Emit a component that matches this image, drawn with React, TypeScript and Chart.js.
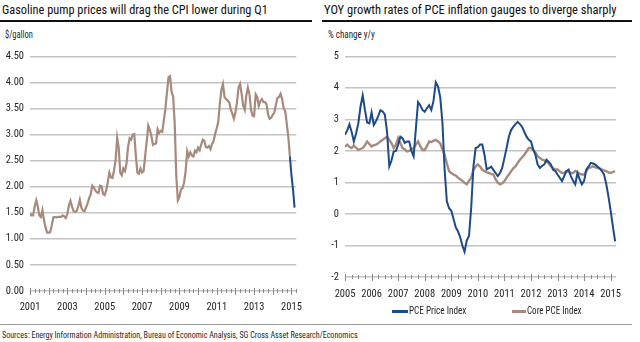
import React, { useEffect, useLayoutEffect, useRef } from "react";
import { Chart, registerables } from "chart.js";

Chart.register(...registerables);

const FONT = '"Roboto Condensed", "Liberation Sans Narrow", "DejaVu Sans Condensed", sans-serif';

// ---------- Left chart: gasoline pump prices ($/gallon), monthly from Jan 2001 ----------
const gasStartYear = 2001;
const gasPrices: number[] = [
  1.49, 1.45, 1.45, 1.62, 1.74, 1.62, 1.45, 1.42, 1.55, 1.36, 1.22, 1.12, // 2001
  1.12, 1.13, 1.26, 1.41, 1.42, 1.41, 1.42, 1.42, 1.42, 1.45, 1.43, 1.40, // 2002
  1.48, 1.64, 1.73, 1.62, 1.53, 1.52, 1.53, 1.63, 1.75, 1.60, 1.54, 1.53, // 2003
  1.60, 1.68, 1.78, 1.85, 2.02, 1.98, 1.93, 1.89, 1.88, 2.02, 2.01, 1.86, // 2004
  1.84, 1.93, 2.09, 2.27, 2.18, 2.17, 2.31, 2.51, 2.94, 2.75, 2.27, 2.22, // 2005
  2.35, 2.30, 2.44, 2.76, 2.93, 2.90, 3.00, 3.01, 2.60, 2.27, 2.25, 2.35, // 2006
  2.27, 2.30, 2.59, 2.87, 3.17, 3.09, 2.97, 2.80, 2.82, 2.83, 3.10, 3.03, // 2007
  3.07, 3.05, 3.27, 3.49, 3.80, 4.10, 4.12, 3.82, 3.72, 3.20, 2.20, 1.74, // 2008
  1.80, 1.95, 1.97, 2.08, 2.30, 2.68, 2.58, 2.66, 2.60, 2.58, 2.69, 2.66, // 2009
  2.75, 2.70, 2.81, 2.90, 2.88, 2.76, 2.75, 2.78, 2.72, 2.82, 2.88, 3.02, // 2010
  3.12, 3.25, 3.60, 3.86, 3.97, 3.72, 3.68, 3.65, 3.62, 3.48, 3.40, 3.30, // 2011
  3.42, 3.62, 3.90, 3.97, 3.78, 3.55, 3.47, 3.75, 3.90, 3.78, 3.48, 3.36, // 2012
  3.35, 3.77, 3.72, 3.55, 3.64, 3.68, 3.62, 3.62, 3.58, 3.38, 3.30, 3.32, // 2013
  3.38, 3.42, 3.57, 3.70, 3.72, 3.78, 3.68, 3.50, 3.45, 3.20, 2.95, 2.58, // 2014
];
// Dec 2014 .. Mar 2015 (highlighted segment)
const gasLatestStartMonth = 14 * 12 - 1;
const gasLatest: number[] = [2.58, 2.22, 1.95, 1.6];
const gasXTicks: number[] = [2001, 2003, 2005, 2007, 2009, 2011, 2013, 2015];
const gasYTicks: number[] = [0, 0.5, 1, 1.5, 2, 2.5, 3, 3.5, 4, 4.5];

// ---------- Right chart: PCE inflation YoY (%), monthly from Jan 2005 ----------
const pceStartYear = 2005;
const pceHeadline: number[] = [
  2.51, 2.65, 2.84, 2.6, 2.3, 2.55, 2.87, 3.4, 3.76, 3.3, 2.9, 2.87, // 2005
  3.22, 2.82, 2.95, 3.1, 3.29, 3.25, 3.15, 2.6, 1.51, 1.7, 1.98, 2.0, // 2006
  2.2, 2.45, 2.4, 2.25, 2.3, 2.3, 2.0, 1.83, 2.7, 3.55, 3.45, 3.3, // 2007
  3.24, 3.35, 3.45, 3.3, 3.6, 4.18, 4.05, 3.71, 2.9, 1.4, 0.4, 0.18, // 2008
  0.1, -0.15, -0.42, -0.55, -0.73, -1.0, -1.2, -0.84, -0.7, 0.2, 1.5, 2.09, // 2009
  2.12, 2.2, 2.2, 1.88, 1.41, 1.45, 1.5, 1.4, 1.3, 1.2, 1.3, 1.46, // 2010
  1.77, 2.1, 2.45, 2.66, 2.76, 2.85, 2.92, 2.85, 2.76, 2.6, 2.45, 2.35, // 2011
  2.3, 2.05, 1.88, 1.57, 1.46, 1.52, 1.57, 1.72, 1.65, 1.57, 1.4, 1.36, // 2012
  1.25, 1.15, 1.04, 1.2, 1.36, 1.41, 1.2, 1.05, 0.94, 1.3, 1.1, 0.94, // 2013
  1.05, 1.41, 1.5, 1.62, 1.6, 1.57, 1.5, 1.45, 1.36, 1.25, 0.95, 0.55, // 2014
  0.1, -0.4, -0.87, // 2015
];
const pceCore: number[] = [
  2.14, 2.2, 2.12, 2.09, 2.17, 2.1, 2.03, 2.06, 2.09, 2.18, 2.3, 2.22, // 2005
  2.14, 2.18, 2.2, 2.24, 2.3, 2.35, 2.4, 2.45, 2.35, 2.24, 2.09, 2.2, // 2006
  2.4, 2.25, 2.09, 2.05, 1.98, 2.0, 2.05, 2.09, 2.2, 2.3, 2.15, 2.03, // 2007
  2.03, 2.15, 2.3, 2.28, 2.32, 2.35, 2.3, 2.24, 2.05, 1.88, 1.6, 1.36, // 2008
  1.3, 1.25, 1.22, 1.15, 1.1, 1.05, 0.99, 0.94, 1.05, 1.15, 1.41, 1.5, // 2009
  1.57, 1.5, 1.4, 1.36, 1.32, 1.3, 1.27, 1.25, 1.1, 0.99, 0.94, 0.97, // 2010
  1.04, 1.15, 1.25, 1.35, 1.45, 1.51, 1.62, 1.72, 1.8, 1.88, 1.98, 2.09, // 2011
  2.09, 2.03, 1.95, 1.83, 1.78, 1.72, 1.7, 1.67, 1.6, 1.51, 1.45, 1.41, // 2012
  1.41, 1.35, 1.3, 1.3, 1.36, 1.33, 1.3, 1.3, 1.36, 1.32, 1.28, 1.25, // 2013
  1.25, 1.35, 1.46, 1.48, 1.51, 1.48, 1.46, 1.44, 1.41, 1.38, 1.36, 1.32, // 2014
  1.3, 1.33, 1.36, // 2015
];
const pceXTicks: number[] = [2005, 2006, 2007, 2008, 2009, 2010, 2011, 2012, 2013, 2014, 2015];
const pceYTicks: number[] = [-2, -1, 0, 1, 2, 3, 4, 5];

const BROWN = "#a88a7d";
const BLUE = "#1d4a8a";
const GRID = "#c4c4c4";
const TEXT = "#262626";

function monthly(startYear: number, values: number[], offset = 0) {
  return values.map((v, i) => ({ x: startYear + (offset + i) / 12, y: v }));
}

// draws quarterly minor and yearly major tick marks along the x axis
const tickMarks = {
  id: "tickMarks",
  afterDraw(chart: any) {
    const xs = chart.scales.x;
    const ctx = chart.ctx;
    const y0 = chart.chartArea.bottom;
    ctx.save();
    ctx.strokeStyle = "#8a8a8a";
    ctx.lineWidth = 1;
    for (let q = Math.ceil(xs.min * 4); q <= Math.floor(xs.max * 4); q++) {
      const px = Math.round(xs.getPixelForValue(q / 4)) + 0.5;
      const major = q % 4 === 0;
      ctx.beginPath();
      ctx.moveTo(px, y0 - (major ? 3 : 2));
      ctx.lineTo(px, y0 + (major ? 4 : 2));
      ctx.stroke();
    }
    ctx.restore();
  },
};

function baseOptions(p: {
  xMin: number; xMax: number; xTicks: number[]; yMin: number; yMax: number; yTicks: number[];
  yWidth: number; xHeight: number; padRight: number; xPad: number; yFmt: (v: number) => string;
}) {
  return {
    responsive: false,
    animation: false as const,
    devicePixelRatio: 1,
    layout: { padding: { top: 10, right: p.padRight, left: 0, bottom: 0 } },
    plugins: { legend: { display: false }, tooltip: { enabled: false } },
    elements: { point: { radius: 0 }, line: { tension: 0 } },
    scales: {
      x: {
        type: "linear" as const,
        min: p.xMin,
        max: p.xMax,
        afterBuildTicks: (s: any) => { s.ticks = p.xTicks.map((v) => ({ value: v })); },
        afterFit: (s: any) => { s.height = p.xHeight; },
        grid: { display: false, drawTicks: false },
        border: { display: false },
        ticks: {
          autoSkip: false,
          maxRotation: 0,
          padding: p.xPad,
          color: TEXT,
          font: { family: FONT, size: 10.5 },
          callback: (v: any) => String(v),
        },
      },
      y: {
        min: p.yMin,
        max: p.yMax,
        afterBuildTicks: (s: any) => { s.ticks = p.yTicks.map((v) => ({ value: v })); },
        afterFit: (s: any) => { s.width = p.yWidth; },
        grid: { color: GRID, lineWidth: 1.4, drawTicks: false },
        border: { display: false },
        ticks: {
          padding: 6,
          color: TEXT,
          font: { family: FONT, size: 10.5 },
          callback: (v: any) => p.yFmt(Number(v)),
        },
      },
    },
  };
}

function GasChart() {
  const ref = useRef<HTMLCanvasElement>(null);
  useEffect(() => {
    const chart = new Chart(ref.current as HTMLCanvasElement, {
      type: "line",
      data: {
        datasets: [
          { label: "Latest", data: monthly(gasStartYear, gasLatest, gasLatestStartMonth), borderColor: BLUE, borderWidth: 2, pointRadius: 0 },
          { label: "Gasoline", data: monthly(gasStartYear, gasPrices), borderColor: BROWN, borderWidth: 2.2, pointRadius: 0 },
        ],
      },
      options: baseOptions({
        xMin: 2001, xMax: 2015.26, xTicks: gasXTicks, yMin: 0, yMax: 4.5, yTicks: gasYTicks,
        yWidth: 30, xHeight: 28, padRight: 10, xPad: 10, yFmt: (v) => v.toFixed(2),
      }) as any,
      plugins: [tickMarks],
    });
    return () => chart.destroy();
  }, []);
  return <canvas ref={ref} width={312} height={275} style={{ position: "absolute", left: 0, top: 44 }} />;
}

function PceChart() {
  const ref = useRef<HTMLCanvasElement>(null);
  useEffect(() => {
    const chart = new Chart(ref.current as HTMLCanvasElement, {
      type: "line",
      data: {
        datasets: [
          { label: "PCE Price Index", data: monthly(pceStartYear, pceHeadline), borderColor: BLUE, borderWidth: 2, pointRadius: 0 },
          { label: "Core PCE Index", data: monthly(pceStartYear, pceCore), borderColor: BROWN, borderWidth: 2.4, pointRadius: 0 },
        ],
      },
      options: baseOptions({
        xMin: 2005, xMax: 2015.2, xTicks: pceXTicks, yMin: -2, yMax: 5, yTicks: pceYTicks,
        yWidth: 25, xHeight: 29, padRight: 24, xPad: 11, yFmt: (v) => String(v),
      }) as any,
      plugins: [tickMarks],
    });
    return () => chart.destroy();
  }, []);
  return <canvas ref={ref} width={320} height={262} style={{ position: "absolute", left: 320, top: 44 }} />;
}

// text squeezed horizontally to a target width (the reference uses a narrow grotesque)
function FitText(props: { x: number; y: number; w: number; size: number; color?: string; children: string }) {
  const ref = useRef<HTMLDivElement>(null);
  useLayoutEffect(() => {
    const el = ref.current;
    if (!el) return;
    const natural = el.scrollWidth;
    if (natural > 0) el.style.transform = `scaleX(${props.w / natural})`;
  }, [props.w, props.children]);
  return (
    <div
      ref={ref}
      style={{
        position: "absolute",
        left: props.x,
        top: props.y,
        whiteSpace: "nowrap",
        lineHeight: 1,
        fontFamily: FONT,
        fontSize: props.size,
        color: props.color || TEXT,
        transformOrigin: "0 0",
        display: "inline-block",
      }}
    >
      {props.children}
    </div>
  );
}

export default function App() {
  return (
    <div style={{ position: "absolute", left: 0, top: 0, width: 640, height: 342, background: "#fff", overflow: "hidden" }}>
      <FitText x={2} y={3} w={266} size={13} color="#111">Gasoline pump prices will drag the CPI lower during Q1</FitText>
      <FitText x={324} y={3} w={293} size={13} color="#111">YOY growth rates of PCE inflation gauges to diverge sharply</FitText>
      <div style={{ position: "absolute", left: 0, top: 20, width: 312, height: 2, background: "#111" }} />
      <div style={{ position: "absolute", left: 322, top: 20, width: 310, height: 2, background: "#111" }} />
      <FitText x={5} y={30} w={28} size={10}>$/gallon</FitText>
      <FitText x={328} y={30} w={47} size={10}>% change y/y</FitText>
      <GasChart />
      <PceChart />
      <div style={{ position: "absolute", left: 392, top: 310, width: 16, height: 3, background: BLUE }} />
      <FitText x={409} y={306} w={57} size={10.5}>PCE Price Index</FitText>
      <div style={{ position: "absolute", left: 512, top: 310, width: 14, height: 3, background: BROWN }} />
      <FitText x={527} y={306} w={55} size={10.5}>Core PCE Index</FitText>
      <div style={{ position: "absolute", left: 0, top: 324, width: 632, height: 1, background: "#9a9a9a" }} />
      <FitText x={2} y={330} w={356} size={9.5}>Sources: Energy Information Administration, Bureau of Economic Analysis, SG Cross Asset Research/Economics</FitText>
    </div>
  );
}
